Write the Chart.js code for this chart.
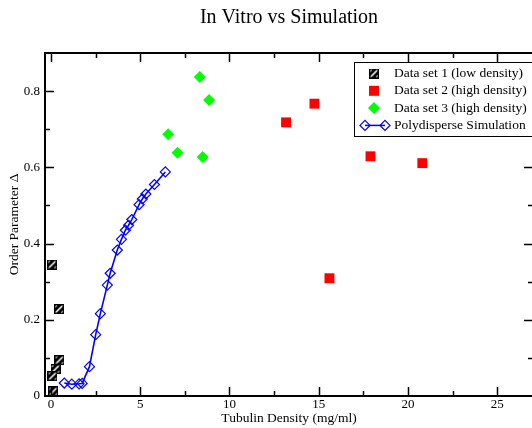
<!DOCTYPE html>
<html>
<head>
<meta charset="utf-8">
<title>In Vitro vs Simulation</title>
<script src="https://cdn.jsdelivr.net/npm/chart.js@4/dist/chart.umd.min.js"></script>
<style>
  html, body { margin: 0; padding: 0; background: #fff; }
  #wrap { width: 532px; height: 428px; overflow: hidden; }
</style>
</head>
<body>
<div id="wrap"><canvas id="chart" width="540" height="428"></canvas></div>
<script>
// tubulin density (mg/ml) and order parameter for each set
const SET1_X = [0.07, 0.46, 0.48, 0.26, 0.09, 0.13];
const SET1_Y = [0.345, 0.228, 0.094, 0.071, 0.052, 0.012];

const SET2_X = [13.17, 14.76, 15.6, 17.9, 20.8];
const SET2_Y = [0.718, 0.767, 0.309, 0.629, 0.611];

const SET3_X = [6.57, 7.09, 8.34, 8.5, 8.86];
const SET3_Y = [0.687, 0.638, 0.837, 0.627, 0.777];

const SIM_X = [0.75, 1.17, 1.58, 1.75, 2.16, 2.51, 2.77, 3.16, 3.32, 3.72, 3.95, 4.17, 4.35, 4.53, 4.94, 5.12, 5.32, 5.8, 6.41];
const SIM_Y = [0.034, 0.031, 0.032, 0.033, 0.077, 0.161, 0.216, 0.291, 0.322, 0.383, 0.411, 0.435, 0.448, 0.463, 0.502, 0.517, 0.53, 0.555, 0.588];

const LABELS = ["Data set 1 (low density)", "Data set 2 (high density)", "Data set 3 (high density)", "Polydisperse Simulation"];
const X_TICK_STEP = 5;
const Y_TICK_STEP = 0.2;

const SERIF = "'Liberation Serif', 'Times New Roman', serif";

function toPoints(xs, ys) {
    return xs.map((x, i) => ({ x: x, y: ys[i] }));
}

// black/white hatched square marker
function makeHatch(size) {
    const c = document.createElement("canvas");
    c.width = size;
    c.height = size;
    const g = c.getContext("2d");
    g.fillStyle = "#000";
    g.fillRect(0, 0, size, size);
    g.strokeStyle = "#fff";
    g.lineWidth = 1.6;
    g.beginPath();
    [-0.62, 0, 0.62].forEach(f => {
        const k = f * size;
        g.moveTo(k + 1, size - 1);
        g.lineTo(k + size - 1, 1);
    });
    g.stroke();
    g.strokeStyle = "#000";
    g.lineWidth = 1.4;
    g.strokeRect(0.7, 0.7, size - 1.4, size - 1.4);
    return c;
}
const HATCH = makeHatch(10);

function diamond(ctx, x, y, r) {
    ctx.beginPath();
    ctx.moveTo(x - r, y);
    ctx.lineTo(x, y - r);
    ctx.lineTo(x + r, y);
    ctx.lineTo(x, y + r);
    ctx.closePath();
}

// closed frame with inward ticks on all four sides
const frameTicks = {
    id: "frameTicks",
    afterDatasetsDraw(chart) {
        const ctx = chart.ctx;
        const a = chart.chartArea;
        const xs = chart.scales.x;
        const ys = chart.scales.y;
        ctx.save();
        ctx.strokeStyle = "#000";
        ctx.lineWidth = 1.5;
        ctx.beginPath();
        xs.ticks.forEach(t => {
            [[t.value, 9], [t.value + X_TICK_STEP / 2, 5]].forEach(([v, len]) => {
                if (v <= xs.min || v >= xs.max) return;
                const px = Math.round(xs.getPixelForValue(v)) + 0.5;
                ctx.moveTo(px, a.bottom); ctx.lineTo(px, a.bottom - len);
                ctx.moveTo(px, a.top); ctx.lineTo(px, a.top + len);
            });
        });
        ys.ticks.forEach(t => {
            [[t.value, 9], [t.value + Y_TICK_STEP / 2, 5]].forEach(([v, len]) => {
                if (v <= ys.min + 1e-9 || v >= ys.max - 1e-9) return;
                const py = Math.round(ys.getPixelForValue(v)) + 0.5;
                ctx.moveTo(a.left, py); ctx.lineTo(a.left + len, py);
                ctx.moveTo(a.right, py); ctx.lineTo(a.right - len, py);
            });
        });
        ctx.stroke();
        ctx.lineWidth = 2;
        ctx.strokeRect(a.left, a.top, a.right - a.left, a.bottom - a.top);
        ctx.restore();
    }
};

// boxed legend in the upper right of the plot
const boxLegend = {
    id: "boxLegend",
    afterDraw(chart) {
        const ctx = chart.ctx;
        const left = 354.5, top = 62.5, rowH = 17.3;
        ctx.save();
        ctx.fillStyle = "#fff";
        ctx.fillRect(left, top, 190, 74);
        ctx.strokeStyle = "#000";
        ctx.lineWidth = 1;
        ctx.strokeRect(left, top, 190, 74);

        const ix = 374, tx = 394;
        let y = top + 11;
        ctx.drawImage(HATCH, ix - 5, y - 5, 10, 10);
        y += rowH;
        ctx.fillStyle = "#ff0000";
        ctx.fillRect(ix - 5, y - 5, 10, 10);
        y += rowH;
        ctx.fillStyle = "#00ff00";
        diamond(ctx, ix, y, 6);
        ctx.fill();
        y += rowH;
        ctx.strokeStyle = "#0000ff";
        ctx.lineWidth = 1.5;
        ctx.beginPath();
        ctx.moveTo(ix - 9, y); ctx.lineTo(ix + 11, y);
        ctx.stroke();
        ctx.lineWidth = 1.2;
        diamond(ctx, ix - 9, y, 5); ctx.stroke();
        diamond(ctx, ix + 11, y, 5); ctx.stroke();

        ctx.fillStyle = "#000";
        ctx.font = "13.5px " + SERIF;
        ctx.textBaseline = "middle";
        ctx.textAlign = "left";
        LABELS.forEach((lab, i) => ctx.fillText(lab, tx, top + 11 + i * rowH));
        ctx.restore();
    }
};

function createChart() {
    const ctx = document.getElementById("chart").getContext("2d");
    return new Chart(ctx, {
        type: "scatter",
        data: {
            datasets: [{
                label: LABELS[0],
                data: toPoints(SET1_X, SET1_Y),
                pointStyle: HATCH,
                pointRadius: 5,
            }, {
                label: LABELS[1],
                data: toPoints(SET2_X, SET2_Y),
                pointStyle: "rect",
                pointRadius: 7,
                pointBorderWidth: 0,
                backgroundColor: "#ff0000",
                borderColor: "#ff0000",
            }, {
                label: LABELS[2],
                data: toPoints(SET3_X, SET3_Y),
                pointStyle: "rectRot",
                pointRadius: 6,
                pointBorderWidth: 0,
                backgroundColor: "#00ff00",
                borderColor: "#00ff00",
            }, {
                label: LABELS[3],
                data: toPoints(SIM_X, SIM_Y),
                showLine: true,
                borderColor: "#0000ff",
                borderWidth: 1.6,
                pointStyle: "rectRot",
                pointRadius: 5,
                pointBorderWidth: 1.2,
                pointBorderColor: "#0000ff",
                pointBackgroundColor: "rgba(0,0,0,0)",
            }]
        },
        options: {
            responsive: false,
            animation: false,
            devicePixelRatio: 1,
            layout: { padding: { top: 0, right: 4, bottom: 0, left: 0 } },
            scales: {
                x: {
                    type: "linear",
                    min: -0.33,
                    max: 27,
                    grid: { display: false, drawTicks: false, tickLength: 0 },
                    border: { display: false },
                    ticks: {
                        stepSize: X_TICK_STEP,
                        includeBounds: false,
                        padding: 1,
                        color: "#000",
                        font: { family: SERIF, size: 13 },
                    },
                    title: {
                        display: true,
                        text: "Tubulin Density (mg/ml)",
                        color: "#000",
                        font: { family: SERIF, size: 13.5 },
                        padding: { top: 0, bottom: 1 },
                    },
                    afterFit(scale) { scale.height = 32; }
                },
                y: {
                    type: "linear",
                    min: 0,
                    max: 0.9,
                    grid: { display: false, drawTicks: false, tickLength: 0 },
                    border: { display: false },
                    ticks: {
                        stepSize: Y_TICK_STEP,
                        includeBounds: false,
                        padding: 5,
                        color: "#000",
                        font: { family: SERIF, size: 13 },
                    },
                    title: {
                        display: true,
                        text: "Order Parameter Δ",
                        color: "#000",
                        font: { family: SERIF, size: 13.5 },
                        padding: { top: 6, bottom: 0 },
                    },
                    afterFit(scale) { scale.width = 45; }
                }
            },
            plugins: {
                legend: { display: false },
                tooltip: { enabled: false },
                title: {
                    display: true,
                    fullSize: false,
                    text: "In Vitro vs Simulation",
                    color: "#000",
                    font: { family: SERIF, size: 20, weight: "normal" },
                    padding: { top: 6, bottom: 23 },
                }
            }
        },
        plugins: [frameTicks, boxLegend]
    });
}

createChart();
</script>
</body>
</html>
